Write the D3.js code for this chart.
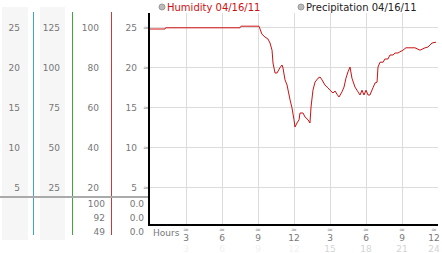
<!DOCTYPE html>
<html><head><meta charset="utf-8">
<script src="https://cdn.jsdelivr.net/npm/d3@7"></script>
<style>body{margin:0;background:#fff}svg{display:block;font-family:"DejaVu Sans",sans-serif}</style>
</head><body>
<script>
const hours = [0,1.25,1.3,7.5,7.58,9.08,9.33,9.58,9.83,10.0,10.17,10.25,10.42,10.58,10.83,11.0,11.08,11.25,11.42,11.67,11.83,12.0,12.08,12.25,12.42,12.5,12.75,12.92,13.17,13.33,13.42,13.58,13.75,14.0,14.17,14.33,14.58,14.83,15.0,15.25,15.42,15.58,15.75,16.0,16.17,16.33,16.5,16.67,16.83,17.08,17.33,17.5,17.67,17.83,18.0,18.17,18.33,18.58,18.75,18.92,19.0,19.17,19.42,19.58,19.83,20.0,20.25,20.42,20.67,20.83,21.08,21.33,22.08,22.5,22.92,23.17,23.5,23.83];
const humidity = [24.75,24.75,24.9,24.9,25.1,25.1,24.1,23.75,23.5,23.0,22.1,20.5,19.25,19.25,19.9,20.25,19.9,18.4,17.75,15.9,14.9,13.4,12.5,13.0,13.4,14.25,14.25,13.75,13.4,13.0,15.0,17.1,18.1,18.6,18.75,18.4,17.75,17.4,17.1,16.75,17.0,16.6,16.25,16.9,17.5,18.6,19.4,20.0,18.6,17.5,16.9,16.5,17.1,16.5,17.1,16.5,16.5,17.4,18.0,18.1,20.0,20.6,20.6,21.0,21.0,21.5,21.5,21.75,21.75,21.9,22.1,22.4,22.4,22.1,22.4,22.5,23.0,23.1];
const yTicks = [25,20,15,10,5];
const col1Labels = ["25","20","15","10","5"];
const col2Labels = ["125","100","75","50","25"];
const col3Labels = ["100","80","60","40","20"];
const col4Labels = ["25","20","15","10","5"];
const summaryA = ["100","92","49"];
const summaryB = ["0.0","0.0","0.0"];
const xTicks = [3,6,9,12,15,18,21,24];
const xTickLabels = ["3","6","9","12","3","6","9","12"];
const xTickLabels2 = ["3","6","9","12","15","18","21","24"];
const legend = ["Humidity 04/16/11","Precipitation 04/16/11"];

const W=442,H=253;
const svg=d3.select("body").append("svg").attr("width",W).attr("height",H);
const x=d3.scaleLinear().domain([0,24]).range([150,438]);
const y=d3.scaleLinear().domain([0,25]).range([227,27]);
const lx=d=>Math.min(x(d),434);

// left panel backgrounds
svg.append("rect").attr("x",2).attr("y",7).attr("width",26).attr("height",233).attr("fill","#f6f6f6");
svg.append("rect").attr("x",40).attr("y",7).attr("width",25).attr("height",233).attr("fill","#f6f6f6");

// grid
const g=svg.append("g");
g.selectAll(".hg").data(yTicks).join("line")
 .attr("x1",150).attr("x2",438).attr("y1",d=>y(d)+0.5).attr("y2",d=>y(d)+0.5)
 .attr("stroke","#dcdcdc");
g.selectAll(".vg").data(xTicks.slice(0,7)).join("line")
 .attr("x1",d=>Math.round(x(d))+0.5).attr("x2",d=>Math.round(x(d))+0.5).attr("y1",13).attr("y2",225)
 .attr("stroke","#dcdcdc");

// column lines
[[33,"#3aa6cc"],[72,"#3aaa3a"],[111,"#c83a3a"]].forEach(([cx,c])=>{
  svg.append("line").attr("x1",cx+0.5).attr("x2",cx+0.5).attr("y1",12).attr("y2",235).attr("stroke",c);
});
// separator
svg.append("line").attr("x1",0).attr("x2",149).attr("y1",197).attr("y2",197).attr("stroke","#aaa").attr("stroke-width",2);

const lab=(arr,xr,anchor)=>svg.append("g").selectAll("text").data(arr).join("text")
 .attr("x",xr).attr("y",(d,i)=>y(yTicks[i])+3.5).attr("text-anchor",anchor)
 .attr("font-size",9).attr("fill","#777").text(d=>d);
lab(col1Labels,20,"end");
lab(col2Labels,60,"end");
lab(col3Labels,99,"end");
lab(col4Labels,137,"end");
// tick marks on y
svg.append("g").selectAll("text").data(yTicks).join("text")
 .attr("x",146).attr("y",d=>y(d)+3).attr("text-anchor","middle").attr("font-size",7).attr("fill","#999").text("≈");

// summary rows
svg.append("g").selectAll("text").data(summaryA).join("text")
 .attr("x",105).attr("y",(d,i)=>207+i*14).attr("text-anchor","end").attr("font-size",9).attr("fill","#777").text(d=>d);
svg.append("g").selectAll("text").data(summaryB).join("text")
 .attr("x",144).attr("y",(d,i)=>207+i*14).attr("text-anchor","end").attr("font-size",9).attr("fill","#777").text(d=>d);

// line
const data=hours.map((h,i)=>[h,humidity[i]]);
svg.append("path").datum(data).attr("fill","none").attr("stroke","#cc1111").attr("stroke-width",1)
 .attr("d",d3.line().x(d=>x(d[0])).y(d=>y(d[1])));

// axes
svg.append("line").attr("x1",149).attr("x2",149).attr("y1",13).attr("y2",226).attr("stroke","#000").attr("stroke-width",2);
svg.append("line").attr("x1",148).attr("x2",438).attr("y1",225).attr("y2",225).attr("stroke","#000").attr("stroke-width",2);

// x labels
svg.append("text").attr("x",153).attr("y",236).attr("font-size",9).attr("fill","#777").text("Hours");
const xt=svg.append("g");
xt.selectAll(".m").data(xTicks).join("text").attr("x",d=>lx(d)).attr("y",232).attr("text-anchor","middle")
 .attr("font-size",7).attr("fill","#999").text("≈");
xt.selectAll(".l").data(xTickLabels).join("text").attr("x",(d,i)=>lx(xTicks[i])).attr("y",241).attr("text-anchor","middle")
 .attr("font-size",9).attr("fill","#777").text(d=>d);
xt.selectAll(".l2").data(xTickLabels2).join("text").attr("x",(d,i)=>lx(xTicks[i])).attr("y",252).attr("text-anchor","middle")
 .attr("font-size",9).attr("fill",(d,i)=>i<4?"#f2f2f2":"#d4d4d4").text(d=>d);

// legend
svg.append("circle").attr("cx",162).attr("cy",7).attr("r",3).attr("fill","#bbb").attr("stroke","#999");
svg.append("text").attr("x",167).attr("y",10.5).attr("font-size",10).attr("fill","#cc1111").text(legend[0]);
svg.append("circle").attr("cx",301).attr("cy",7).attr("r",3).attr("fill","#bbb").attr("stroke","#999");
svg.append("text").attr("x",306).attr("y",10.5).attr("font-size",10).attr("fill","#222").text(legend[1]);
</script>
</body></html>
